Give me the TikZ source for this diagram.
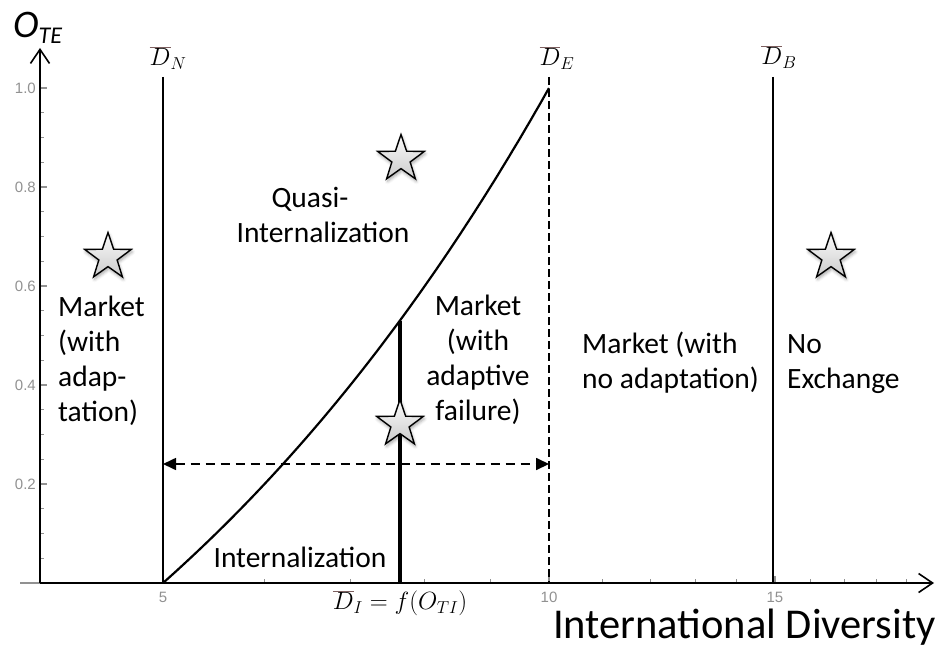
\documentclass[tikz,border=0pt]{standalone}
\usepackage{fontspec}
\setmainfont{Carlito}
\newfontfamily\tickfont{Liberation Sans}
\usepackage{xcolor}
\usetikzlibrary{arrows.meta,shapes.geometric,shadows.blur}

\definecolor{tickgray}{RGB}{145,145,145}
\definecolor{barbrown}{RGB}{125,95,95}
\newcommand{\dbar}[1]{{\color{barbrown}\overline{\color{black}#1}}}

\begin{document}
\begin{tikzpicture}[
    x=1pt, y=-1pt,
    declare function={lx(\v) = 163 + 557*ln(\v/5); ly(\v) = 583 - 495*\v;},
    font=\fontsize{29.5}{35}\selectfont,
    axis/.style   = {line width=1.8pt,
                     -{Straight Barb[length=14pt, width=19pt, line width=1.6pt]}},
    tick/.style   = {tickgray, line width=1.2pt},
    ticklab/.style= {text=tickgray, inner sep=0pt,
                     font=\tickfont\fontsize{15}{15}\selectfont},
    bound/.style  = {line width=1.8pt},
    curve/.style  = {line width=2.2pt},
    cutline/.style= {line width=3.5pt},
    span/.style   = {line width=1.6pt, dash pattern=on 9pt off 6pt,
                     {Triangle[length=13pt, width=12pt]}-{Triangle[length=13pt, width=12pt]}},
    dlab/.style   = {inner sep=0pt, font=\fontsize{23}{26}\selectfont},
    region/.style = {inner sep=0pt, align=left},
    starmark/.style = {star, star points=5, star point ratio=2.55,
                       minimum size=49pt, inner sep=0pt, draw=black,
                       line width=1.4pt, top color=gray!4, bottom color=gray!40,
                       blur shadow={shadow xshift=1pt, shadow yshift=-2.5pt,
                                    shadow blur radius=3pt, shadow opacity=35}},
]
\useasboundingbox (0,0) rectangle (941,650);

% ============ axes ============
\coordinate (o)     at (40,583);
\coordinate (xleft) at (20,583);
\coordinate (ytop)  at (40,48);
\coordinate (xend)  at (934,583);

\foreach \i in {1,...,20}
    \draw[tick] (40,{ly(\i/20)}) -- ++(4,0);
\foreach \v/\t in {0.2/0.2,0.4/0.4,0.6/0.6,0.8/0.8,1/1.0} {
    \draw[tick] (40,{ly(\v)}) -- ++(7,0);
    \node[ticklab, anchor=east] (yl\t) at (36,{ly(\v)}) {\t};
}
\foreach \v in {6,7,8,9,11,12,13,14,16,17,18,19}
    \draw[tick] ({lx(\v)},583) -- ++(0,-4);
\foreach \v in {5,10,15} {
    \draw[tick] ({lx(\v)},583) -- ++(0,-7);
    \node[ticklab] (xl\v) at ({lx(\v)},597) {\v};
}

\draw[tickgray, line width=1.8pt] (xleft) -- (o);
\draw[axis] (o) -- (ytop);
\draw[axis] (o) -- (xend);

\node[inner sep=0pt, anchor=base west] (oaxis) at (13,38)
    {\fontsize{39}{39}\selectfont\itshape O\raisebox{-6pt}{\fontsize{24}{24}\selectfont TE}};
\node[inner sep=0pt, anchor=base east, font=\fontsize{42.5}{45}\selectfont]
    (xaxis) at (936,638) {International Diversity};

% ============ boundaries ============
\coordinate (dN) at (163,77);
\coordinate (dE) at ({lx(10)},77);
\coordinate (dB) at (773,77);

\draw[bound] (dN) -- (dN |- o);
\draw[bound, line width=1.3pt, dash pattern=on 8pt off 4pt] (dE) -- (dE |- o);
\draw[bound] (dB) -- (dB |- o);

\node[dlab] (lN) at (168,58) {$\dbar{D}_N$};
\node[dlab] (lE) at (557,58) {$\dbar{D}_E$};
\node[dlab] (lB) at (779,57) {$\dbar{D}_B$};

% ============ curve and cut ============
\draw[curve] plot[domain=5:10, samples=80] ({lx(\x)},{ly((\x-5)/5)});

\coordinate (cut) at ({lx(7.65)},{ly(0.53)});
\draw[cutline] (cut) -- (cut |- o);
\node[dlab] (lI) at (400,603) {$\dbar{D}_I = f(O_{TI})$};

\coordinate (spanL) at (dN |- 0,464);
\coordinate (spanR) at (dE |- 0,464);
\draw[span] (spanL) -- (spanR);

% ============ regions ============
\node[starmark] (s1) at (108,257) {};
\node[starmark] (s2) at (401,159) {};
\node[starmark] (s3) at (831,257) {};
\node[starmark] (s4) at (400,424) {};

\node[region, anchor=base west] (madapt) at (58,421)
    {Market\\(with\\adap-\\tation)};
\node[region, align=center, anchor=base] (quasi) at (323,242)
    {Quasi-\hspace*{26pt}\\Internalization};
\node[region, align=center, anchor=base] (mfail) at (478,420)
    {Market\\(with\\adaptive\\failure)};
\node[region, anchor=base west] (mnoad) at (582,388)
    {Market (with\\no adaptation)};
\node[region, anchor=base west] (noex) at (787,388)
    {No\\Exchange};
\node[region, anchor=base] (intern) at (300,567) {Internalization};

\end{tikzpicture}
\end{document}
